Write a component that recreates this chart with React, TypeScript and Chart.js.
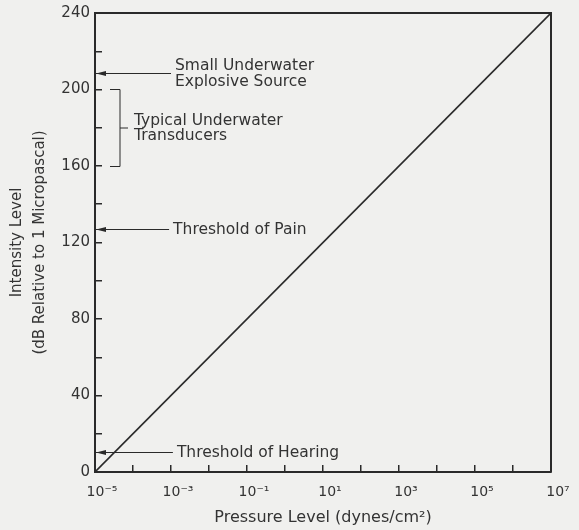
import { useEffect, useRef } from 'react';
import { Chart, registerables } from 'chart.js';
Chart.register(...registerables);

// Data
const pressure = [1e-5, 1e7]; // dynes/cm^2
const intensity = [0, 240]; // dB re 1 µPa
const xTickExponents = [-5, -4, -3, -2, -1, 0, 1, 2, 3, 4, 5, 6, 7];
const xLabelExponents = [-5, -3, -1, 1, 3, 5, 7];
const yMin = 0;
const yMax = 240;
const yTickStep = 20;
const yLabelStep = 40;

const markerLabels = [['Small Underwater', 'Explosive Source'], ['Threshold of Pain'], ['Threshold of Hearing']];
const markerLevels = [208.5, 127, 10.3];
const markerLineEnd = [1e-3, 10 ** -3.05, 10 ** -2.95];
const bracketRange = [160, 200];
const bracketLabel = ['Typical Underwater', 'Transducers'];

const SUP: Record<string, string> = {
  '-': '⁻', '0': '⁰', '1': '¹', '2': '²', '3': '³', '4': '⁴', '5': '⁵', '6': '⁶', '7': '⁷', '8': '⁸', '9': '⁹',
};
const sup = (n: number) => String(n).split('').map((c) => SUP[c] ?? c).join('');

const INK = '#2a2a2a';
const TEXT = '#333333';
const FONT = 'DejaVu Sans';

export default function App() {
  const ref = useRef<HTMLCanvasElement | null>(null);
  useEffect(() => {
    document.body.style.margin = '0';
    const canvas = ref.current;
    if (!canvas) return;

    const annotate = {
      id: 'annotate',
      beforeDraw(chart: any) {
        const { ctx } = chart;
        ctx.save();
        ctx.fillStyle = '#f0f0ee';
        ctx.fillRect(0, 0, chart.width, chart.height);
        ctx.restore();
      },
      afterDraw(chart: any) {
        const { ctx, chartArea } = chart;
        const xs = chart.scales.x;
        const ys = chart.scales.y;
        ctx.save();
        ctx.strokeStyle = INK;
        ctx.lineWidth = 2;
        ctx.beginPath();
        ctx.moveTo(chartArea.left, chartArea.top);
        ctx.lineTo(chartArea.right, chartArea.top);
        ctx.lineTo(chartArea.right, chartArea.bottom);
        ctx.stroke();

        ctx.font = `15.5px "${FONT}"`;
        ctx.fillStyle = TEXT;
        ctx.textBaseline = 'middle';
        ctx.textAlign = 'left';
        markerLevels.forEach((lvl, i) => {
          const y = Math.round(ys.getPixelForValue(lvl)) + 0.5;
          const x0 = chartArea.left + 1;
          const x1 = xs.getPixelForValue(markerLineEnd[i]);
          ctx.strokeStyle = INK;
          ctx.lineWidth = 1;
          ctx.beginPath();
          ctx.moveTo(x0, y);
          ctx.lineTo(x1, y);
          ctx.stroke();
          ctx.fillStyle = INK;
          ctx.beginPath();
          ctx.moveTo(x0, y);
          ctx.lineTo(x0 + 10, y - 2.5);
          ctx.lineTo(x0 + 10, y + 2.5);
          ctx.closePath();
          ctx.fill();
          ctx.fillStyle = TEXT;
          const lines = markerLabels[i];
          const lh = 16;
          lines.forEach((t, j) => {
            ctx.fillText(t, x1 + 4, y + (j - (lines.length - 1) / 2) * lh);
          });
        });

        // bracket
        const bt = Math.round(ys.getPixelForValue(bracketRange[1])) + 0.5;
        const bb = Math.round(ys.getPixelForValue(bracketRange[0])) + 0.5;
        const bm = (bt + bb) / 2;
        const bx = chartArea.left + 25;
        ctx.strokeStyle = INK;
        ctx.lineWidth = 1;
        ctx.beginPath();
        ctx.moveTo(bx - 10, bt);
        ctx.lineTo(bx, bt);
        ctx.lineTo(bx, bb);
        ctx.lineTo(bx - 10, bb);
        ctx.moveTo(bx, bm);
        ctx.lineTo(bx + 8, bm);
        ctx.stroke();
        ctx.fillStyle = TEXT;
        bracketLabel.forEach((t, j) => {
          ctx.fillText(t, bx + 14, bm - 7 + j * 15);
        });
        ctx.restore();
      },
    };

    const chart = new Chart(canvas, {
      type: 'scatter',
      data: {
        datasets: [
          {
            data: pressure.map((p, i) => ({ x: p, y: intensity[i] })),
            showLine: true,
            borderColor: INK,
            borderWidth: 1.6,
            pointRadius: 0,
            fill: false,
          },
        ],
      },
      options: {
        responsive: false,
        animation: false,
        events: [],
        layout: { padding: { top: 13, right: 28, left: 0, bottom: 0 } },
        plugins: { legend: { display: false }, tooltip: { enabled: false } },
        scales: {
          x: {
            type: 'logarithmic',
            min: 10 ** xTickExponents[0],
            max: 10 ** xTickExponents[xTickExponents.length - 1],
            afterBuildTicks: (scale: any) => {
              scale.ticks = xTickExponents.map((e) => ({ value: 10 ** e }));
            },
            afterFit: (scale: any) => {
              scale.height = 58;
              scale.paddingLeft = 0;
              scale.paddingRight = 0;
              scale.paddingTop = 0;
              scale.paddingBottom = 0;
            },
            ticks: {
              autoSkip: false,
              maxRotation: 0,
              labelOffset: 7,
              padding: 19,
              color: TEXT,
              font: { family: FONT, size: 14 },
              callback: (v: any) => {
                const e = Math.round(Math.log10(Number(v)));
                return xLabelExponents.includes(e) ? '10' + sup(e) : '';
              },
            },
            grid: { drawOnChartArea: false, drawTicks: true, tickLength: -7, color: INK, lineWidth: 1.5 },
            border: { display: true, color: INK, width: 2 },
            title: {
              display: true,
              text: 'Pressure Level (dynes/cm²)',
              color: TEXT,
              font: { family: FONT, size: 16 },
              padding: { top: 0, bottom: 3 },
            },
          },
          y: {
            type: 'linear',
            min: yMin,
            max: yMax,
            afterFit: (scale: any) => {
              scale.width = 95;
              scale.paddingLeft = 0;
              scale.paddingRight = 0;
              scale.paddingTop = 0;
              scale.paddingBottom = 0;
            },
            ticks: {
              stepSize: yTickStep,
              autoSkip: false,
              padding: 12,
              color: TEXT,
              font: { family: FONT, size: 15 },
              callback: (v: any) => (Number(v) % yLabelStep === 0 ? String(v) : ''),
            },
            grid: { drawOnChartArea: false, drawTicks: true, tickLength: -7, color: INK, lineWidth: 1.5 },
            border: { display: true, color: INK, width: 2 },
            title: {
              display: true,
              text: ['Intensity Level', '(dB Relative to 1 Micropascal)'],
              color: TEXT,
              font: { family: FONT, size: 15, lineHeight: '23px' },
              padding: { top: 6, bottom: 0 },
            },
          },
        },
      },
      plugins: [annotate],
    });
    return () => chart.destroy();
  }, []);

  return (
    <div style={{ position: 'absolute', left: 0, top: 0, width: 579, height: 530, background: '#f0f0ee' }}>
      <canvas ref={ref} width={579} height={530} />
    </div>
  );
}
